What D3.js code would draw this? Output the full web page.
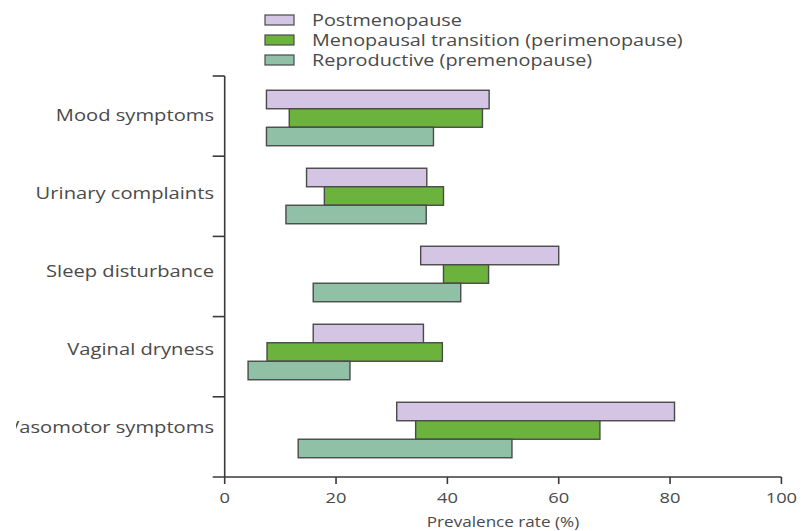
<!DOCTYPE html>
<html>
<head>
<meta charset="utf-8">
<script src="https://cdn.jsdelivr.net/npm/d3@7"></script>
<style>
  html, body { margin: 0; padding: 0; background: #fff; }
  svg text { font-family: "Open Sans", "Noto Sans", sans-serif; fill: #4a4a4a; }
</style>
</head>
<body>
<svg id="chart" width="805" height="531"></svg>
<script>
// Symptom categories, top to bottom
const categories = ["Mood symptoms", "Urinary complaints", "Sleep disturbance", "Vaginal dryness", "Vasomotor symptoms"];

// Menopausal stages, in legend / bar order
const stages = ["Postmenopause", "Menopausal transition (perimenopause)", "Reproductive (premenopause)"];

// Prevalence range [low, high] in % per category, one array per stage
const postLow  = [7.5, 14.7, 35.2, 15.9, 30.9];
const postHigh = [47.5, 36.3, 60.0, 35.7, 80.8];
const periLow  = [11.6, 17.9, 39.3, 7.6, 34.3];
const periHigh = [46.3, 39.3, 47.4, 39.1, 67.4];
const reproLow  = [7.5, 11.0, 15.9, 4.2, 13.2];
const reproHigh = [37.5, 36.2, 42.4, 22.5, 51.6];

const xTicks = [0, 20, 40, 60, 80, 100];
const xTitle = "Prevalence rate (%)";

const colors = ["#d3c5e3", "#6cb33d", "#90c0a6"];

const lows = [postLow, periLow, reproLow];
const highs = [postHigh, periHigh, reproHigh];

const rows = [];
categories.forEach((c, i) => {
  stages.forEach((s, j) => {
    rows.push({ category: c, stage: s, low: lows[j][i], high: highs[j][i] });
  });
});

const svg = d3.select("#chart");

// the typeface is set slightly wide, so text is stretched horizontally
function place(sel, x, y, sx) {
  return sel.attr("transform", (d, i) => {
    const px = typeof x === "function" ? x(d, i) : x;
    const py = typeof y === "function" ? y(d, i) : y;
    return `translate(${px},${py}) scale(${sx},1)`;
  });
}

const x = d3.scaleLinear().domain([0, 100]).range([224.7, 781.4]);

// bar groups
const yGroup = d3.scaleBand().domain(categories).range([79, 469]).paddingInner(0).paddingOuter(0);
const yStage = d3.scaleBand().domain(stages).range([0, 55.5]);
const groupOffset = (yGroup.bandwidth() - yStage.range()[1]) / 2;

// separator ticks on the category axis
const ySep = d3.scaleLinear().domain([0, categories.length]).range([76, 477]);

const axisColor = "#3a3a3a";

// y axis line and separators
svg.append("line")
  .attr("x1", x(0)).attr("x2", x(0))
  .attr("y1", ySep(0)).attr("y2", ySep(categories.length))
  .attr("stroke", axisColor).attr("stroke-width", 1.6);

svg.selectAll("line.sep")
  .data(d3.range(categories.length))
  .join("line")
  .attr("class", "sep")
  .attr("x1", x(0) - 12).attr("x2", x(0))
  .attr("y1", d => ySep(d)).attr("y2", d => ySep(d))
  .attr("stroke", axisColor).attr("stroke-width", 1.6);

// x axis
const xAxisY = ySep(categories.length);
svg.append("line")
  .attr("x1", x(0) - 12).attr("x2", x(100))
  .attr("y1", xAxisY).attr("y2", xAxisY)
  .attr("stroke", axisColor).attr("stroke-width", 1.6);

svg.selectAll("line.xtick")
  .data(xTicks)
  .join("line")
  .attr("class", "xtick")
  .attr("x1", d => x(d)).attr("x2", d => x(d))
  .attr("y1", xAxisY).attr("y2", xAxisY + 7)
  .attr("stroke", axisColor).attr("stroke-width", 1.6);

place(svg.selectAll("text.xlabel")
  .data(xTicks)
  .join("text")
  .attr("class", "xlabel")
  .attr("text-anchor", "middle")
  .attr("font-size", 15)
  .text(d => d), d => x(d), 503, 1.22);

place(svg.append("text")
  .attr("text-anchor", "middle")
  .attr("font-size", 15)
  .text(xTitle), 503, 527, 1.14);

// category labels; the panel's left edge trims the widest one
svg.append("clipPath").attr("id", "labelClip")
  .append("rect").attr("x", 16).attr("y", 0).attr("width", 215).attr("height", 531);

place(svg.append("g").attr("clip-path", "url(#labelClip)")
  .selectAll("text.cat")
  .data(categories)
  .join("text")
  .attr("class", "cat")
  .attr("text-anchor", "end")
  .attr("font-size", 16)
  .text(d => d), 214, d => yGroup(d) + yGroup.bandwidth() / 2 + 3, 1.26);

// bars
svg.selectAll("rect.bar")
  .data(rows)
  .join("rect")
  .attr("class", "bar")
  .attr("x", d => x(d.low))
  .attr("width", d => x(d.high) - x(d.low))
  .attr("y", d => yGroup(d.category) + groupOffset + yStage(d.stage))
  .attr("height", yStage.bandwidth())
  .attr("fill", d => colors[stages.indexOf(d.stage)])
  .attr("stroke", "#4a4a4a")
  .attr("stroke-width", 1.4);

// legend
const legend = svg.append("g").attr("transform", "translate(265,0)");
const legendRow = d3.scalePoint().domain(stages).range([20, 60]);
legend.selectAll("rect")
  .data(stages)
  .join("rect")
  .attr("x", 0).attr("width", 29)
  .attr("y", d => legendRow(d) - 5).attr("height", 10)
  .attr("fill", (d, i) => colors[i])
  .attr("stroke", "#4a4a4a")
  .attr("stroke-width", 1.2);
place(legend.selectAll("text")
  .data(stages)
  .join("text")
  .attr("font-size", 16)
  .text(d => d), 47, d => legendRow(d) + 5.5, 1.24);
</script>
</body>
</html>
